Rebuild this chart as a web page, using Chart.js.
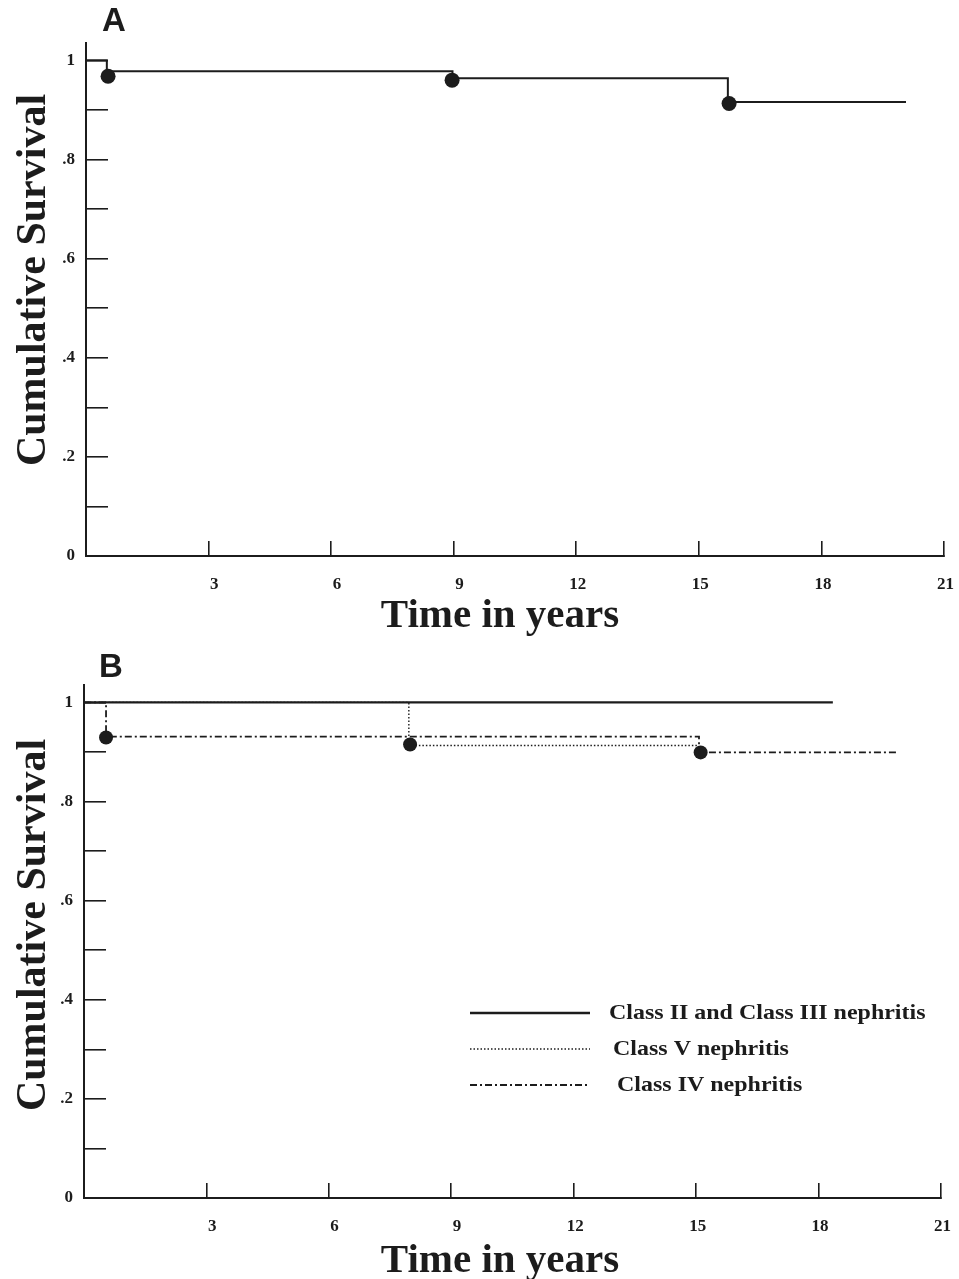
<!DOCTYPE html>
<html>
<head>
<meta charset="utf-8">
<script src="https://cdn.jsdelivr.net/npm/chart.js@4/dist/chart.umd.min.js"></script>
<style>
  html, body { margin: 0; padding: 0; background: #fff; }
  #wrap { position: relative; width: 959px; height: 1279px; overflow: hidden; }
  canvas { position: absolute; left: 0; }
</style>
</head>
<body>
<div id="wrap">
  <canvas id="chartA" width="959" height="640" style="top:0"></canvas>
  <canvas id="chartB" width="959" height="639" style="top:640px"></canvas>
</div>
<script>
// ---------- DATA ----------
const xTickValues = [0, 3, 6, 9, 12, 15, 18, 21];
const yTickLabels = { 0: '0', 2: '.2', 4: '.4', 6: '.6', 8: '.8', 10: '1' };

// Panel A : all patients
const timeA      = [0, 0.51, 8.97, 15.71, 20.07];
const survA      = [1, 0.978, 0.964, 0.916, 0.916];
const censorTimeA = [0.54, 8.96, 15.74];
const censorSurvA = [0.968, 0.960, 0.913];

// Panel B : by histological class
const legendLabels = ['Class II and Class III nephritis', 'Class V nephritis', 'Class IV nephritis'];
const timeB_II_III = [0, 18.35];
const survB_II_III = [1, 1];
const timeB_V      = [0, 7.96, 15.02];
const survB_V      = [1, 0.913, 0.913];
const timeB_IV     = [0, 0.54, 15.07, 19.97];
const survB_IV     = [1, 0.931, 0.899, 0.899];
const censorTimeB  = [0.54, 7.99, 15.11];
const censorSurvB  = [0.929, 0.915, 0.899];

const panelLetters = ['A', 'B'];
const xTitle = 'Time in years';
const yTitle = 'Cumulative Survival';

// ---------- helpers ----------
const toXY = (xs, ys) => xs.map((x, i) => ({ x: x, y: ys[i] }));
const SERIF = '"Liberation Serif", "DejaVu Serif", serif';
const SANS = '"Liberation Sans", Arial, sans-serif';
const INK = '#1c1c1c';

const textPlugin = {
  id: 'panelText',
  afterDraw(chart, args, opts) {
    const ctx = chart.ctx;
    ctx.save();
    ctx.fillStyle = INK;
    // panel letter
    ctx.font = 'bold 33px ' + SANS;
    ctx.textAlign = 'center';
    ctx.textBaseline = 'middle';
    ctx.fillText(opts.letter, opts.letterX, opts.letterY);
    // x title
    ctx.font = 'bold 41px ' + SERIF;
    ctx.fillText(xTitle, opts.xTitleX, opts.xTitleY);
    // y title
    ctx.translate(opts.yTitleX, opts.yTitleY);
    ctx.rotate(-Math.PI / 2);
    ctx.font = 'bold 42px ' + SERIF;
    ctx.fillText(yTitle, 0, 0);
    ctx.restore();

    // legend
    if (opts.legend) {
      const L = opts.legend;
      ctx.save();
      L.items.forEach((dsIndex, k) => {
        const ds = chart.data.datasets[dsIndex];
        const y = L.y0 + k * L.dy;
        ctx.strokeStyle = ds.borderColor;
        ctx.lineWidth = ds.borderWidth;
        ctx.setLineDash(ds.borderDash || []);
        ctx.beginPath();
        ctx.moveTo(L.x0, y);
        ctx.lineTo(L.x1, y);
        ctx.stroke();
        ctx.setLineDash([]);
        ctx.save();
        ctx.fillStyle = INK;
        ctx.font = 'bold 22px ' + SERIF;
        ctx.textAlign = 'left';
        ctx.textBaseline = 'middle';
        ctx.translate(L.textX[k], y);
        ctx.scale(1.09, 1);
        ctx.fillText(ds.label, 0, 0);
        ctx.restore();
      });
      ctx.restore();
    }
  }
};

function makeOptions(cfg) {
  return {
    responsive: false,
    animation: false,
    events: [],
    layout: { padding: { top: cfg.top, right: cfg.right, left: 0, bottom: 0 } },
    plugins: {
      legend: { display: false },
      tooltip: { enabled: false },
      panelText: cfg.text
    },
    scales: {
      x: {
        type: 'linear',
        min: 0, max: 21,
        afterBuildTicks(scale) { scale.ticks = xTickValues.map(v => ({ value: v })); },
        afterFit(scale) { scale.height = cfg.xHeight; scale.paddingLeft = 0; scale.paddingRight = 0; },
        border: { display: true, color: INK, width: 2 },
        grid: { drawOnChartArea: false, color: INK, lineWidth: 1.6, tickLength: -15 },
        ticks: {
          color: INK,
          padding: 33,
          align: 'end',
          labelOffset: 10,
          maxRotation: 0,
          autoSkip: false,
          font: { family: SERIF, weight: 'bold', size: 17 },
          callback: v => (v === 0 ? '' : String(v))
        }
      },
      y: {
        type: 'linear',
        min: 0, max: 1.035,
        afterFit(scale) { scale.width = cfg.yWidth; scale.paddingTop = 0; scale.paddingBottom = 0; },
        border: { display: true, color: INK, width: 2 },
        grid: { drawOnChartArea: false, color: INK, lineWidth: 1.6, tickLength: -22 },
        ticks: {
          color: INK,
          padding: 33,
          stepSize: 0.1,
          includeBounds: false,
          autoSkip: false,
          font: { family: SERIF, weight: 'bold', size: 17 },
          callback: v => { const k = Math.round(v * 10); return yTickLabels[k] !== undefined ? yTickLabels[k] : ''; }
        }
      }
    }
  };
}

const censorStyle = {
  type: 'scatter',
  showLine: false,
  pointStyle: 'circle',
  backgroundColor: INK,
  borderColor: INK,
  borderWidth: 0
};

// ---------- Panel A ----------
new Chart(document.getElementById('chartA'), {
  type: 'line',
  data: {
    datasets: [
      { label: 'Censored', data: toXY(censorTimeA, censorSurvA), pointRadius: 7.5, ...censorStyle },
      { label: 'All patients', data: toXY(timeA, survA), stepped: 'before', borderColor: INK, borderWidth: 2, pointRadius: 0, fill: false }
    ]
  },
  options: makeOptions({
    top: 43, right: 15, xHeight: 84, yWidth: 86,
    text: { letter: panelLetters[0], letterX: 114, letterY: 22, xTitleX: 500, xTitleY: 616, yTitleX: 34, yTitleY: 280 }
  }),
  plugins: [textPlugin]
});

// ---------- Panel B ----------
new Chart(document.getElementById('chartB'), {
  type: 'line',
  data: {
    datasets: [
      { label: legendLabels[0], data: toXY(timeB_II_III, survB_II_III), stepped: 'before', borderColor: INK, borderWidth: 2.4, pointRadius: 0, fill: false },
      { label: legendLabels[1], data: toXY(timeB_V, survB_V), stepped: 'before', borderColor: INK, borderWidth: 1.4, borderDash: [1.5, 2], pointRadius: 0, fill: false },
      { label: legendLabels[2], data: toXY(timeB_IV, survB_IV), stepped: 'before', borderColor: INK, borderWidth: 1.8, borderDash: [7, 3, 2, 3], pointRadius: 0, fill: false },
      { label: 'Censored', data: toXY(censorTimeB, censorSurvB), pointRadius: 7, ...censorStyle }
    ]
  },
  options: makeOptions({
    top: 45, right: 18, xHeight: 81, yWidth: 84,
    text: {
      letter: panelLetters[1], letterX: 111, letterY: 28, xTitleX: 500, xTitleY: 621, yTitleX: 34, yTitleY: 285,
      legend: { items: [0, 1, 2], x0: 470, x1: 590, y0: 373, dy: 36, textX: [609, 613, 617] }
    }
  }),
  plugins: [textPlugin]
});
</script>
</body>
</html>
